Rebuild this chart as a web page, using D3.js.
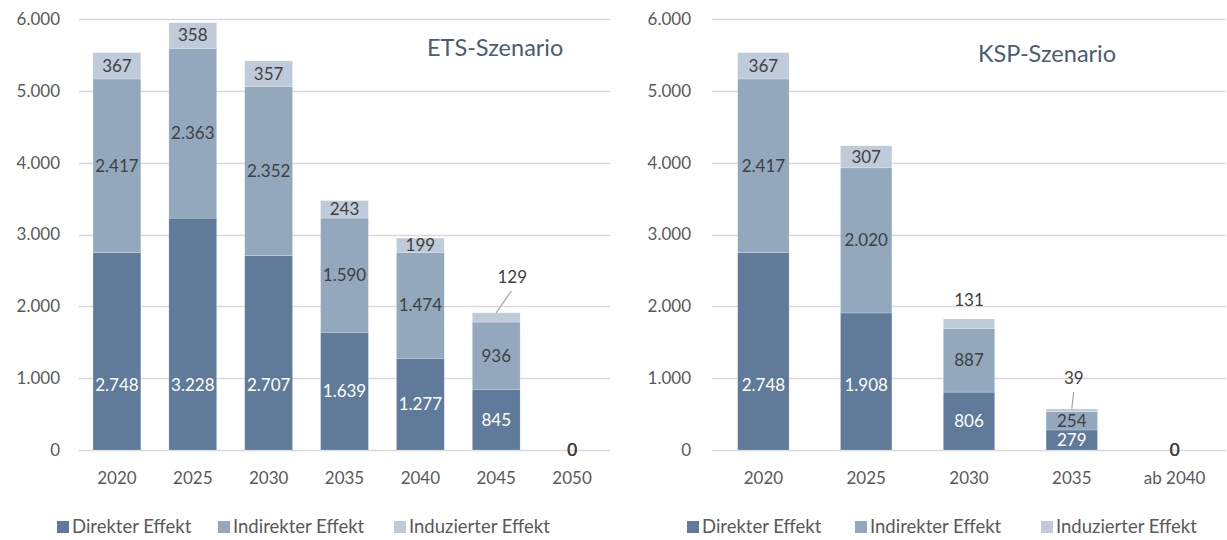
<!DOCTYPE html>
<html>
<head>
<meta charset="utf-8">
<script src="https://cdn.jsdelivr.net/npm/d3@7"></script>
<style>
  body { margin: 0; background: #fff; }
  svg { display: block; font-family: Lato, "Open Sans", sans-serif; }
</style>
</head>
<body>
<svg width="1227" height="540"></svg>
<script>
// ETS-Szenario
var etsYears = ["2020", "2025", "2030", "2035", "2040", "2045", "2050"]
var etsDirect = [2748, 3228, 2707, 1639, 1277, 845, 0]
var etsIndirect = [2417, 2363, 2352, 1590, 1474, 936, 0]
var etsInduced = [367, 358, 357, 243, 199, 129, 0]

// KSP-Szenario
var kspYears = ["2020", "2025", "2030", "2035", "ab 2040"]
var kspDirect = [2748, 1908, 806, 279, 0]
var kspIndirect = [2417, 2020, 887, 254, 0]
var kspInduced = [367, 307, 131, 39, 0]

var yTicks = [0, 1000, 2000, 3000, 4000, 5000, 6000]
var seriesNames = ["Direkter Effekt", "Indirekter Effekt", "Induzierter Effekt"]
var colors = ["#5f7b99", "#93a8bd", "#bfcbd8"]
var fmt = d3.formatLocale({decimal: ",", thousands: ".", grouping: [3], currency: ["", ""]}).format(",")

var svg = d3.select("svg")

function drawPanel(opt) {
    var g = svg.append("g")
    var x = d3.scaleBand().domain(opt.cats).range([opt.x0, opt.x1]).paddingInner(opt.pad).paddingOuter(opt.pad / 2)
    var y = d3.scaleLinear().domain([0, 6000]).range([450, 19])

    // grid
    g.selectAll(".grid").data(yTicks).enter().append("line")
        .attr("x1", opt.x0).attr("x2", opt.x1)
        .attr("y1", function(d) { return Math.round(y(d)) + 0.5 })
        .attr("y2", function(d) { return Math.round(y(d)) + 0.5 })
        .attr("stroke", "#d9d9d9").attr("stroke-width", 1.5)

    g.selectAll(".ytick").data(yTicks).enter().append("text")
        .attr("x", opt.yLabelX).attr("y", function(d) { return y(d) })
        .attr("dy", "0.35em").attr("text-anchor", "end")
        .attr("font-size", 17).attr("fill", "#595959")
        .text(function(d) { return fmt(d) })

    g.selectAll(".xtick").data(opt.cats).enter().append("text")
        .attr("x", function(d) { return x(d) + x.bandwidth() / 2 })
        .attr("y", 478).attr("dy", "0.35em").attr("text-anchor", "middle")
        .attr("font-size", 17).attr("fill", "#595959")
        .text(function(d) { return d })

    var rows = opt.cats.map(function(c, i) {
        return {cat: c, vals: [opt.direct[i], opt.indirect[i], opt.induced[i]]}
    })

    rows.forEach(function(r) {
        var base = 0
        var cx = x(r.cat) + x.bandwidth() / 2
        r.vals.forEach(function(v, k) {
            if (v > 0) {
                g.append("rect")
                    .attr("x", x(r.cat)).attr("width", x.bandwidth())
                    .attr("y", y(base + v)).attr("height", y(base) - y(base + v))
                    .attr("fill", colors[k])
                    .attr("stroke", "#fff").attr("stroke-width", 0.5).attr("stroke-opacity", 0.4)
            }
            var ly, lx = cx
            if (k == 0) ly = y(base + Math.min(v / 2, 900))
            else ly = y(base + v / 2)
            var out = opt.outside[r.cat]
            if (k == 2 && out) {
                lx = cx + out.dx
                ly = y(base + v) - out.dy
                if (out.line) {
                    g.append("line")
                        .attr("x1", cx).attr("y1", y(base + v))
                        .attr("x2", cx + out.dx * 0.95).attr("y2", ly + 14)
                        .attr("stroke", "#a6a6a6").attr("stroke-width", 1.2)
                }
            }
            g.append("text")
                .attr("x", lx).attr("y", ly).attr("dy", "0.35em")
                .attr("text-anchor", "middle").attr("font-size", 17)
                .attr("fill", k == 0 && v > 0 ? "#ffffff" : "#404040")
                .text(fmt(v))
            base += v
        })
    })

    g.append("text")
        .attr("x", opt.titleX).attr("y", opt.titleY).attr("dy", "0.35em")
        .attr("font-size", 23.5).attr("fill", "#4a5d73")
        .text(opt.title)

    // legend
    var lg = g.selectAll(".leg").data(seriesNames).enter().append("g")
        .attr("transform", function(d, i) { return "translate(" + opt.legendX[i] + ",527)" })
    lg.append("rect").attr("x", 0).attr("y", -6).attr("width", 12).attr("height", 12)
        .attr("fill", function(d, i) { return colors[i] })
    lg.append("text").attr("x", 15).attr("y", 0).attr("dy", "0.35em")
        .attr("font-size", 18.5).attr("fill", "#595959")
        .text(function(d) { return d })
}

drawPanel({
    cats: etsYears, direct: etsDirect, indirect: etsIndirect, induced: etsInduced,
    x0: 79, x1: 610, pad: 0.37, yLabelX: 60, title: "ETS-Szenario", titleX: 427, titleY: 48,
    outside: {"2045": {dx: 16, dy: 36, line: true}},
    legendX: [57, 218, 394]
})

drawPanel({
    cats: kspYears, direct: kspDirect, indirect: kspIndirect, induced: kspInduced,
    x0: 712, x1: 1226, pad: 0.5, yLabelX: 691, title: "KSP-Szenario", titleX: 978, titleY: 54,
    outside: {"2030": {dx: 0, dy: 19, line: false}, "2035": {dx: 2, dy: 31, line: true}},
    legendX: [687, 855, 1041]
})
</script>
</body>
</html>
